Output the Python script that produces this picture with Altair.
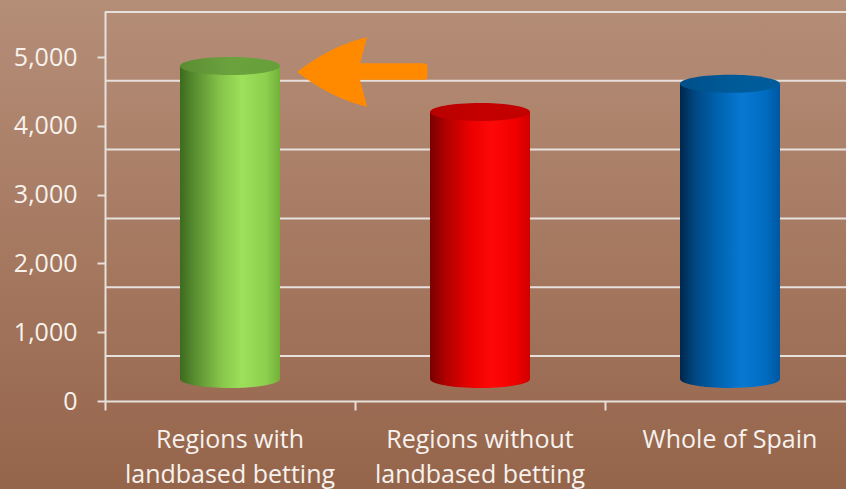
import json
import altair as alt
import pandas as pd

# ---- data ----
category_lines = [["Regions with", "landbased betting"],
                  ["Regions without", "landbased betting"],
                  ["Whole of Spain"]]
categories = [" ".join(l) for l in category_lines]
values = [4550, 3880, 4290]
y_ticks = [0, 1000, 2000, 3000, 4000, 5000]

df = pd.DataFrame({"cat": categories, "val": values})
ticks_df = pd.DataFrame({"t": y_ticks})

FONT = "Open Sans"
LINE = "#e6e1dc"
TXT = "#f7f2ee"
DEPTH = -22      # columns sit at mid-depth of the 3-D floor
BACK = -45       # back-wall gridlines

def lin(stops, vertical=False):
    g = {"gradient": "linear", "x1": 0, "y1": 0,
         "x2": 0 if vertical else 1, "y2": 1 if vertical else 0,
         "stops": [{"offset": o, "color": c} for o, c in stops]}
    return g

styles = {
    categories[0]: (
        lin([(0, "#3d6a1e"), (0.14, "#578c2f"), (0.4, "#85c349"), (0.62, "#9de05b"), (0.86, "#8dcf4e"), (1, "#72b139")]),
        lin([(0, "#5b8c32"), (0.5, "#6ba23e"), (1, "#66a03a")]),
    ),
    categories[1]: (
        lin([(0, "#780000"), (0.15, "#ae0000"), (0.4, "#ea0000"), (0.62, "#ff0808"), (0.86, "#f00000"), (1, "#cf0000")]),
        lin([(0, "#b80000"), (0.5, "#c40000"), (1, "#c20000")]),
    ),
    categories[2]: (
        lin([(0, "#00264c"), (0.15, "#004882"), (0.4, "#0065b3"), (0.62, "#0878d2"), (0.86, "#006cc0"), (1, "#0057a0")]),
        lin([(0, "#004f88"), (0.5, "#005a98"), (1, "#005c9c")]),
    ),
}

ELLIPSE = ("M -1,0 C -1,-0.0994 -0.5523,-0.18 0,-0.18 C 0.5523,-0.18 1,-0.0994 1,0 "
           "C 1,0.0994 0.5523,0.18 0,0.18 C -0.5523,0.18 -1,0.0994 -1,0 Z")
ARROW = ("M -0.99,0 Q -0.46,-0.41 0.08,-0.53 L -0.03,-0.135 L 0.94,-0.135 "
         "Q 1,-0.135 1,-0.08 L 1,0.065 Q 1,0.12 0.94,0.12 L -0.03,0.12 "
         "L 0.08,0.53 Q -0.46,0.41 -0.99,0 Z")

label_expr = " : ".join(
    f"datum.label == '{c}' ? {json.dumps(l)}" for c, l in zip(categories, category_lines)
) + " : datum.label"

xscale = alt.Scale(domain=categories, range=[0, 750], paddingInner=0, paddingOuter=0)
yscale = alt.Scale(domain=[0, 5669], nice=False, zero=True)

xaxis = alt.Axis(title=None, bandPosition=0, labelAngle=0, labelExpr=label_expr,
                 labelFont=FONT, labelFontSize=25, labelLineHeight=35, labelLimit=400,
                 labelColor=TXT, labelPadding=17, tickSize=9, tickWidth=2,
                 tickColor=LINE, domainColor=LINE, domainWidth=2, zindex=2)
yaxis = alt.Axis(title=None, values=y_ticks, labelExpr="format(datum.value, ',')", grid=False,
                 labelFont=FONT, labelFontSize=25, labelColor=TXT, labelLimit=200,
                 labelPadding=20, tickSize=8, tickWidth=2, tickColor=LINE,
                 domainColor=LINE, domainWidth=2, zindex=2)

X = alt.X("cat:N", scale=xscale, sort=categories, axis=xaxis, title=None)
Y = alt.Y("val:Q", scale=yscale, axis=yaxis, title=None)

background = alt.Chart(alt.Data(values=[{}])).mark_rect(
    fill=lin([(0, "#b58e78"), (0.5, "#a67961"), (1, "#95654b")], vertical=True),
    clip=False,
).encode(x=alt.value(-105), x2=alt.value(741), y=alt.value(-11), y2=alt.value(478))

grid = alt.Chart(ticks_df).mark_rule(color=LINE, strokeWidth=2, yOffset=BACK).encode(
    y=alt.Y("t:Q", scale=yscale, axis=yaxis, title=None)
)

layers = [background, grid]
for i, c in enumerate(categories):
    body_fill, top_fill = styles[c]
    base = alt.Chart(df).transform_filter(alt.datum.cat == c)
    bottom = base.mark_point(shape=ELLIPSE, size=10000, filled=True, fill=body_fill,
                             opacity=1, strokeWidth=0, yOffset=DEPTH).encode(
        x=X, y=alt.Y(datum=0, scale=yscale, axis=yaxis, title=None))
    body = base.mark_bar(size=100, fill=body_fill, yOffset=DEPTH, y2Offset=DEPTH).encode(
        x=X, y=Y)
    top = base.mark_point(shape=ELLIPSE, size=10000, filled=True, fill=top_fill,
                          opacity=1, strokeWidth=0, yOffset=DEPTH).encode(x=X, y=Y)
    layers += [bottom, body, top]

arrow = alt.Chart(df).transform_filter(alt.datum.cat == categories[0]).mark_point(
    shape=ARROW, size=131 * 131, filled=True, fill="#ff8a00", opacity=1, strokeWidth=0,
    xOffset=132, yOffset=DEPTH + 6,
).encode(x=X, y=Y)
layers.append(arrow)

chart = alt.layer(*layers).properties(
    width=741, height=390,
    padding={"left": 105, "top": 11, "right": 0, "bottom": 88},
    autosize=alt.AutoSizeParams(type="none"),
    background="#95654b",
).configure_view(stroke=None)

chart.save("out.html", embed_options={"renderer": "svg", "actions": False})
